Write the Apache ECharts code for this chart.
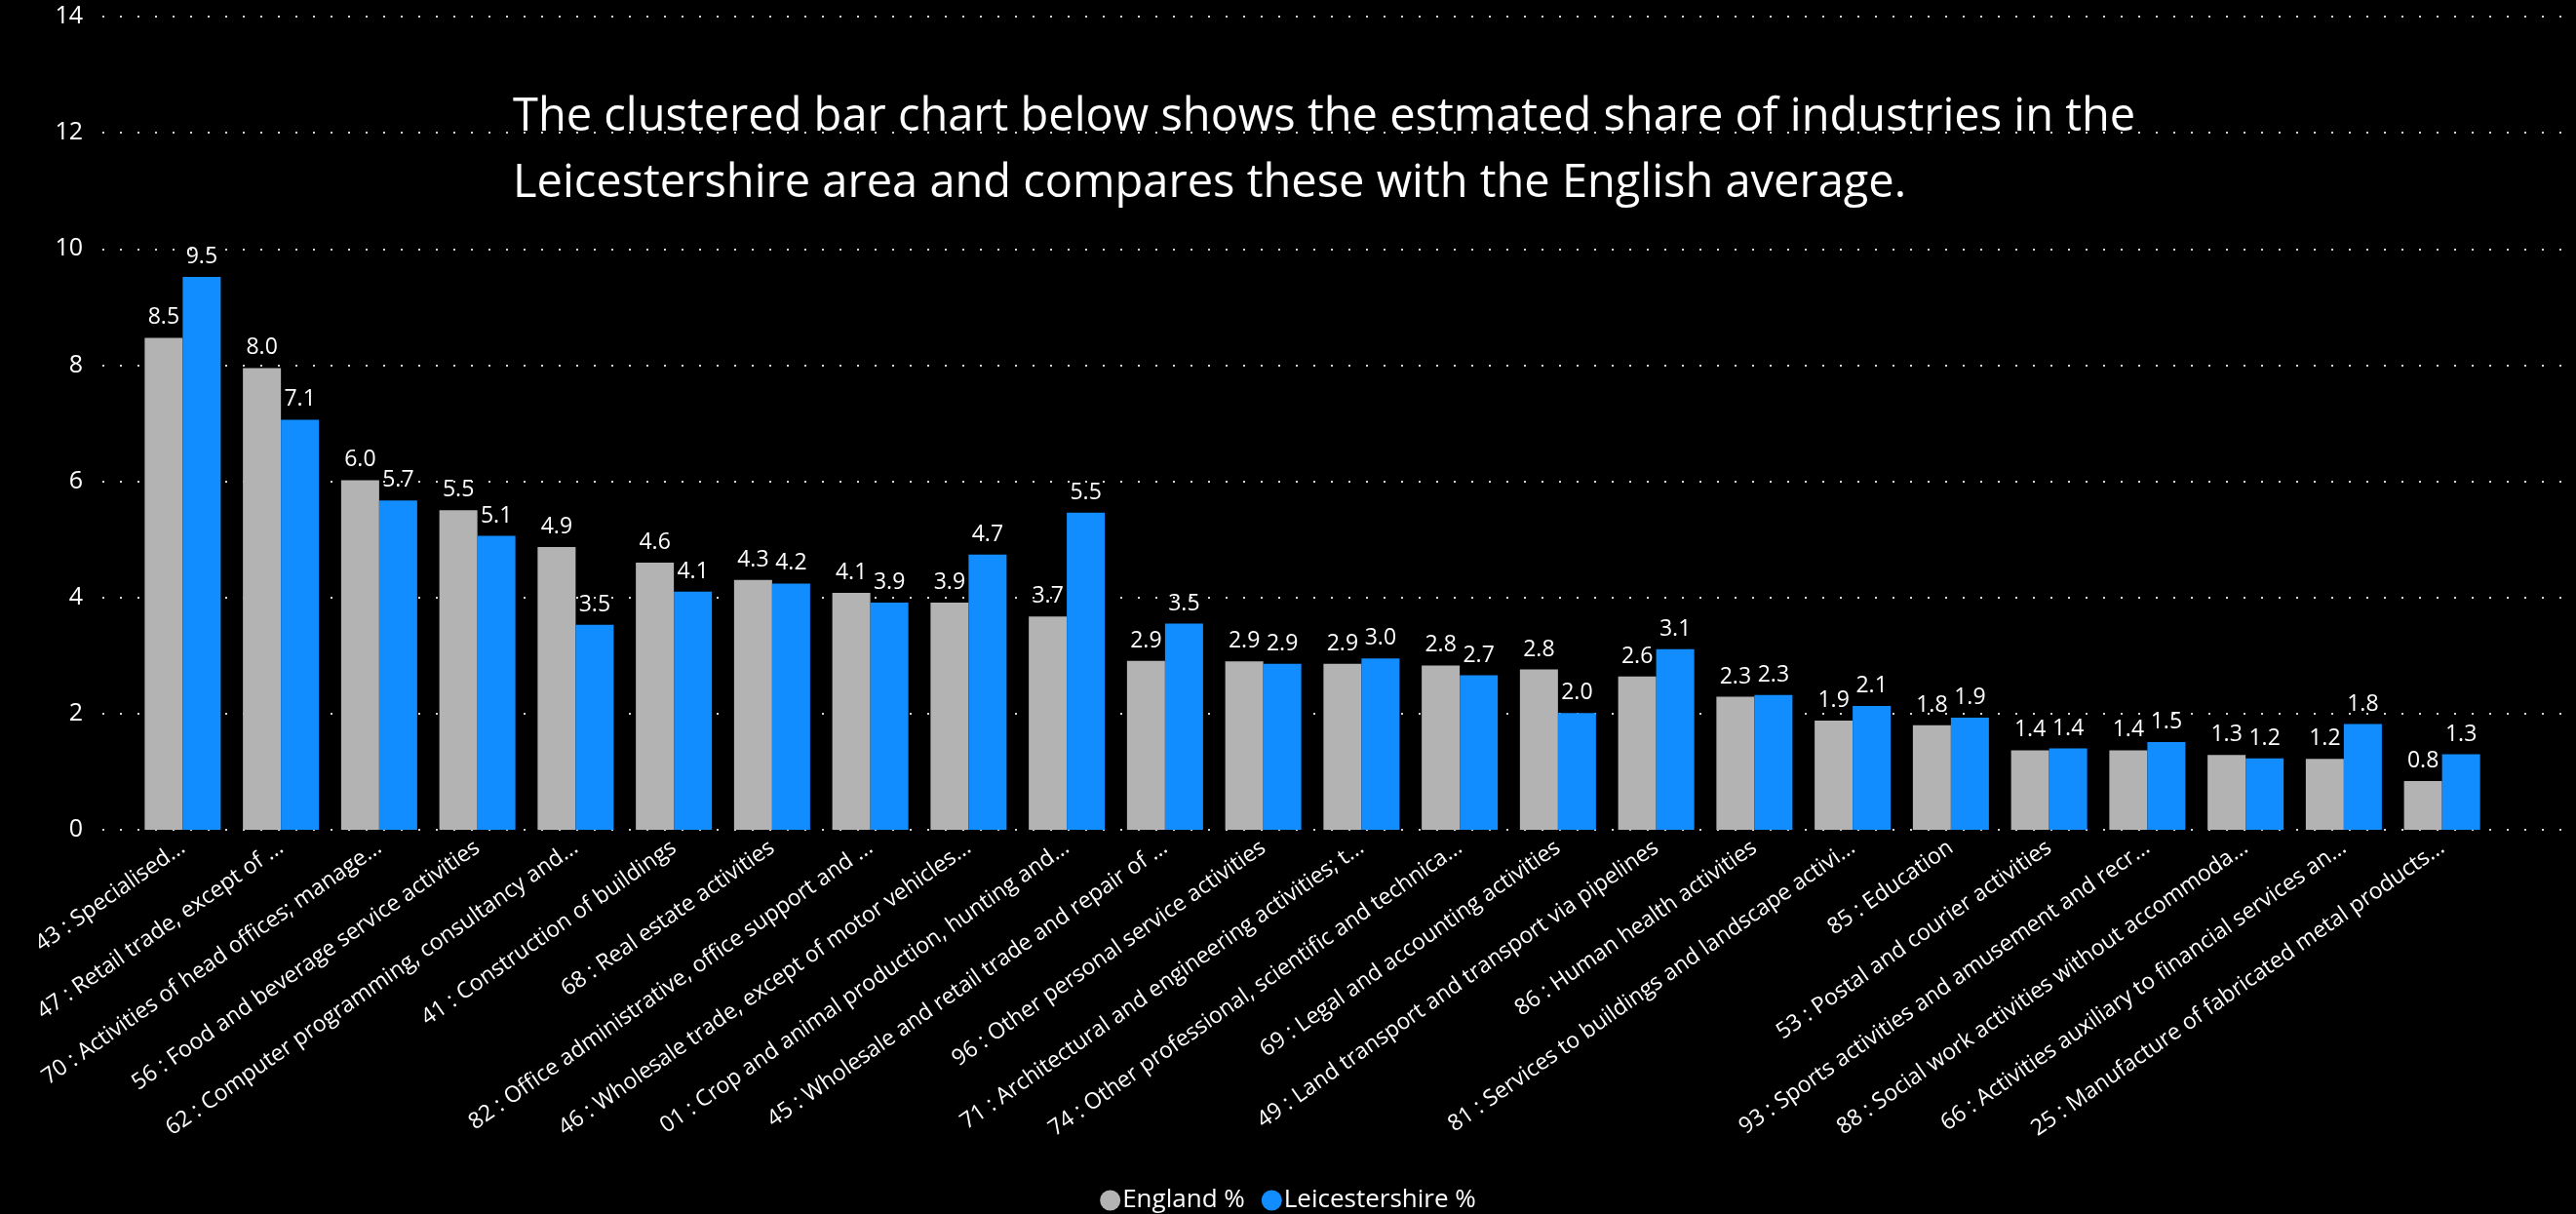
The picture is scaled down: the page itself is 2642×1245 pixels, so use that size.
<!DOCTYPE html>
<html>
<head>
<meta charset="utf-8">
<script src="https://cdn.jsdelivr.net/npm/echarts@6/dist/echarts.min.js"></script>
<style>
html,body{margin:0;padding:0;background:#000;}
#chart{width:2642px;height:1245px;}
</style>
</head>
<body>
<div id="chart"></div>
<script>
const categories = [
  "43 : Specialised...",
  "47 : Retail trade, except of ...",
  "70 : Activities of head offices; manage...",
  "56 : Food and beverage service activities",
  "62 : Computer programming, consultancy and...",
  "41 : Construction of buildings",
  "68 : Real estate activities",
  "82 : Office administrative, office support and ...",
  "46 : Wholesale trade, except of motor vehicles...",
  "01 : Crop and animal production, hunting and...",
  "45 : Wholesale and retail trade and repair of ...",
  "96 : Other personal service activities",
  "71 : Architectural and engineering activities; t...",
  "74 : Other professional, scientific and technica...",
  "69 : Legal and accounting activities",
  "49 : Land transport and transport via pipelines",
  "86 : Human health activities",
  "81 : Services to buildings and landscape activi...",
  "85 : Education",
  "53 : Postal and courier activities",
  "93 : Sports activities and amusement and recr...",
  "88 : Social work activities without accommoda...",
  "66 : Activities auxiliary to financial services an...",
  "25 : Manufacture of fabricated metal products..."
];
const englandValues = [8.47, 7.95, 6.02, 5.5, 4.87, 4.6, 4.3, 4.08, 3.91, 3.67, 2.91, 2.9, 2.86, 2.83, 2.76, 2.64, 2.29, 1.88, 1.8, 1.37, 1.37, 1.29, 1.22, 0.84];
const leicsValues   = [9.52, 7.06, 5.67, 5.06, 3.53, 4.1, 4.24, 3.91, 4.74, 5.46, 3.55, 2.86, 2.95, 2.66, 2.01, 3.11, 2.32, 2.13, 1.93, 1.4, 1.51, 1.23, 1.82, 1.3];
const yTicks = [0, 2, 4, 6, 8, 10, 12, 14];
const seriesNames = ["England %", "Leicestershire %"];
const titleLines = [
  "The clustered bar chart below shows the estmated share of industries in the",
  "Leicestershire area and compares these with the English average."
];

const FONT = "Open Sans, Noto Sans, sans-serif";
const chart = echarts.init(document.getElementById('chart'));
const labelCfg = {
  show: true, position: 'top', distance: 9, color: '#ffffff',
  fontSize: 23, fontFamily: FONT,
  formatter: p => Number(p.value).toFixed(1)
};
chart.setOption({
  backgroundColor: '#000000',
  animation: false,
  title: {
    text: titleLines.join('\n'),
    left: 521, top: 82,
    textStyle: { color: '#ffffff', fontSize: 47, fontWeight: 'normal', fontFamily: FONT, lineHeight: 68 }
  },
  legend: {
    data: seriesNames,
    bottom: -4, left: 'center',
    icon: 'circle', itemWidth: 21, itemHeight: 21, itemGap: 17,
    textStyle: { color: '#ffffff', fontSize: 26, fontFamily: FONT, padding: [0, 0, 0, -3] }
  },
  grid: [
    { left: 105, right: 0, top: 17, bottom: 394 },
    { left: 137, right: 87, top: 17, bottom: 394 }
  ],
  xAxis: [
    { type: 'value', gridIndex: 0, show: false, min: 0, max: 1 },
    {
      type: 'category', gridIndex: 1, data: categories,
      axisLine: { show: false }, axisTick: { show: false },
      axisLabel: { interval: 0, rotate: 35, margin: 16, color: '#ffffff', fontSize: 23, fontFamily: FONT }
    }
  ],
  yAxis: [
    {
      type: 'value', gridIndex: 0, min: yTicks[0], max: yTicks[yTicks.length - 1], interval: 2,
      axisLine: { show: false }, axisTick: { show: false },
      axisLabel: { color: '#ffffff', fontSize: 25, fontFamily: FONT, margin: 20 },
      splitLine: { show: true, lineStyle: { color: '#d6d6d6', width: 2, type: [2, 16] } }
    },
    { type: 'value', gridIndex: 1, min: 0, max: 14, interval: 2, show: false, splitLine: { show: false } }
  ],
  series: [
    {
      name: seriesNames[0], type: 'bar', xAxisIndex: 1, yAxisIndex: 1,
      data: englandValues, barWidth: 39, barGap: '0%',
      itemStyle: { color: '#b3b3b3' }, label: labelCfg
    },
    {
      name: seriesNames[1], type: 'bar', xAxisIndex: 1, yAxisIndex: 1,
      data: leicsValues, barWidth: 39, barGap: '0%',
      itemStyle: { color: '#118dff' }, label: labelCfg
    }
  ]
});
</script>
</body>
</html>
